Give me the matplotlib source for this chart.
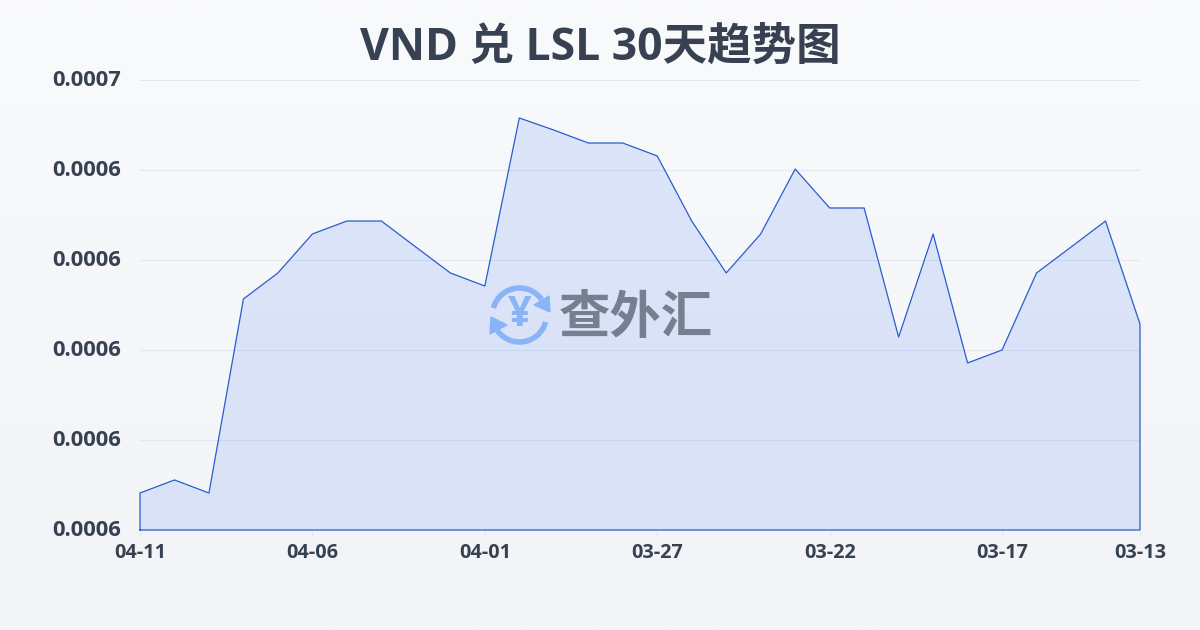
import numpy as np
from matplotlib import pyplot as plt
from matplotlib.colors import LinearSegmentedColormap
from matplotlib.patches import Arc, Polygon
from matplotlib.transforms import ScaledTranslation

plt.rcParams['font.family'] = ['Open Sans', 'Noto Sans CJK SC', 'DejaVu Sans']

title = 'VND 兑 LSL 30天趋势图'
rates = [0.00060411, 0.00060556, 0.00060411, 0.00062567, 0.00062856, 0.00063289,
         0.00063433, 0.00063433, 0.00063144, 0.00062856, 0.00062711, 0.00064578,
         0.00064444, 0.00064300, 0.00064300, 0.00064156, 0.00063433, 0.00062856,
         0.00063289, 0.00064011, 0.00063578, 0.00063578, 0.00062144, 0.00063289,
         0.00061856, 0.00062000, 0.00062856, 0.00063144, 0.00063433, 0.00062289]
date_ticks = [0, 5, 10, 15, 20, 25, 29]
date_labels = ['04-11', '04-06', '04-01', '03-27', '03-22', '03-17', '03-13']
rate_ticks = [0.00060, 0.00061, 0.00062, 0.00063, 0.00064, 0.00065]
rate_labels = ['0.0006', '0.0006', '0.0006', '0.0006', '0.0006', '0.0007']

TEXT = '#374151'
LINE = '#2a5dcc'

fig = plt.figure(figsize=(12, 6.3), dpi=100)

# page background
bg = fig.add_axes([0, 0, 1, 1], zorder=0)
bg.imshow(np.linspace(0, 1, 256).reshape(-1, 1), aspect='auto', extent=[0, 1200, 630, 0],
          cmap=LinearSegmentedColormap.from_list('bg', ['#f9fafc', '#f3f4f7']))
bg.set_xlim(0, 1200)
bg.set_ylim(630, 0)
bg.axis('off')

ax = fig.add_axes([140 / 1200, 100 / 630, 1000 / 1200, 450 / 630], zorder=1)
ax.patch.set_alpha(0)
x = np.arange(len(rates))
ax.fill_between(x, rates, rate_ticks[0], facecolor='#2563eb', alpha=0.13, linewidth=0, zorder=2)
ax.plot(np.r_[x[0], x, x[-1], x[0]], np.r_[rate_ticks[0], rates, rate_ticks[0], rate_ticks[0]],
        color=LINE, lw=0.9, zorder=3, clip_on=False)

ax.set_xlim(0, len(rates) - 1)
ax.set_ylim(rate_ticks[0], rate_ticks[-1])
ax.set_yticks(rate_ticks, rate_labels, fontsize=15.8, fontweight='bold', color=TEXT)
ax.set_xticks(date_ticks, date_labels, fontsize=14.3, fontweight='bold', color=TEXT)
ax.tick_params(axis='y', length=0, pad=13.5)
ax.tick_params(axis='x', length=5, width=0.8, color='#e2e8f0', pad=4.5)
ax.grid(axis='y', color='#e2e8f0', lw=0.8)
ax.set_axisbelow(True)
for s in ax.spines.values():
    s.set_visible(False)
# y labels sit a little above their grid lines
for lab in ax.get_yticklabels():
    lab.set_transform(lab.get_transform() + ScaledTranslation(0, 1.5 / 100, fig.dpi_scale_trans))

fig.text(0.5, 1 - 48 / 630, title, ha='center', va='center', fontsize=32,
         fontweight='bold', color=TEXT, zorder=5)

# watermark logo, drawn in pixel coordinates on an overlay
top = fig.add_axes([0, 0, 1, 1], zorder=4)
top.set_xlim(0, 1200)
top.set_ylim(630, 0)
top.axis('off')
BLUE = '#8ab4f8'
top.add_patch(Arc((519.5, 315), 54, 54, theta1=195, theta2=325, color=BLUE, lw=4))
top.add_patch(Arc((519.5, 315), 54, 54, theta1=15, theta2=145, color=BLUE, lw=4))
top.add_patch(Polygon([[549, 296], [550, 312], [534, 305]], color=BLUE))
top.add_patch(Polygon([[490, 334], [491, 317], [507, 325]], color=BLUE))
top.text(519.5, 315, '¥', ha='center', va='center', fontsize=30, fontweight='bold', color=BLUE)
top.text(636, 320, '查外汇', ha='center', va='center', fontsize=37, fontweight='bold', color='#767f90')

fig.savefig('out.png', dpi=100)
